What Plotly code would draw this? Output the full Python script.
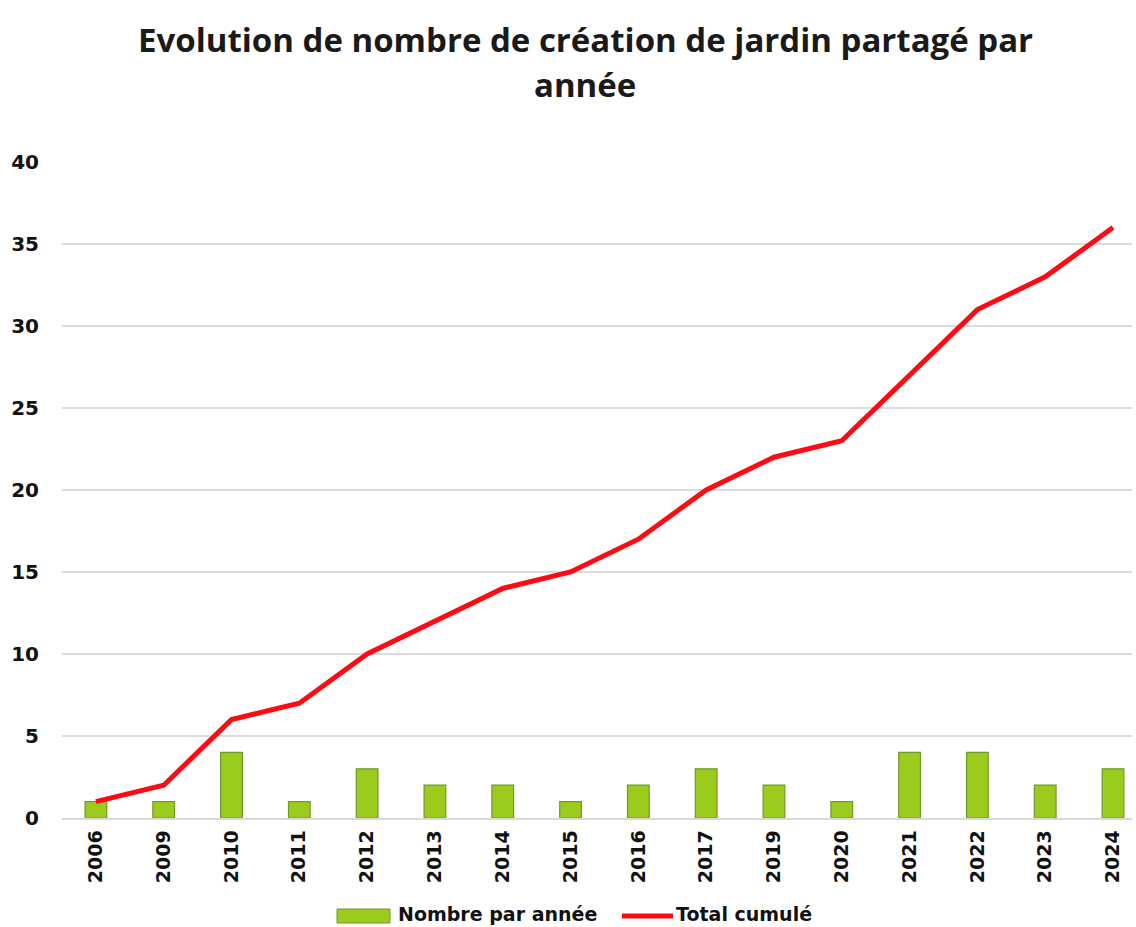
import plotly.graph_objects as go

years = ["2006", "2009", "2010", "2011", "2012", "2013", "2014", "2015",
         "2016", "2017", "2019", "2020", "2021", "2022", "2023", "2024"]
per_year = [1, 1, 4, 1, 3, 2, 2, 1, 2, 3, 2, 1, 4, 4, 2, 3]
cumulative = [1, 2, 6, 7, 10, 12, 14, 15, 17, 20, 22, 23, 27, 31, 33, 36]

BAR_COLOR = "#9BCB1C"
BAR_EDGE = "#6F9A2A"
LINE_COLOR = "#FF0A14"
XTICK_FONT = dict(family="DejaVu Sans", size=19, color="#111")
YTICK_FONT = dict(family="DejaVu Sans", size=20, color="#111")

fig = go.Figure()
fig.add_trace(go.Bar(
    x=years, y=per_year, name="Nombre par année",
    marker=dict(color=BAR_COLOR, line=dict(color=BAR_EDGE, width=1.2)),
    width=0.32, showlegend=False,
))
fig.add_trace(go.Scatter(
    x=years, y=cumulative, name="Total cumulé", mode="lines",
    line=dict(color=LINE_COLOR, width=5), showlegend=False,
))

L, R, T, B = 62, 1132, 162, 818
W, H = 1136, 927
PW, PH = R - L, B - T

def px(x):
    return (x - L) / PW

def py(y):
    return (B - y) / PH

title_font = dict(family="Open Sans", size=33, color="#1a1a1a")
legend_font = dict(family="DejaVu Sans", size=19, color="#111")
annotations = [
    dict(text="<b>Evolution de nombre de création de jardin partagé par</b>",
         x=px(585), y=py(40), xref="paper", yref="paper",
         xanchor="center", yanchor="middle", showarrow=False, font=title_font),
    dict(text="<b>année</b>",
         x=px(585), y=py(84), xref="paper", yref="paper",
         xanchor="center", yanchor="middle", showarrow=False, font=title_font),
    dict(text="<b>Nombre par année</b>",
         x=px(396), y=py(914), xref="paper", yref="paper",
         xanchor="left", yanchor="middle", showarrow=False, font=legend_font),
    dict(text="<b>Total cumulé</b>",
         x=px(674), y=py(914), xref="paper", yref="paper",
         xanchor="left", yanchor="middle", showarrow=False, font=legend_font),
]
shapes = [
    dict(type="rect", xref="paper", yref="paper",
         x0=px(337), x1=px(390), y0=py(909), y1=py(923),
         fillcolor=BAR_COLOR, line=dict(color=BAR_EDGE, width=1)),
    dict(type="line", xref="paper", yref="paper",
         x0=px(622), x1=px(673), y0=py(916), y1=py(916),
         line=dict(color=LINE_COLOR, width=5)),
]

fig.update_layout(
    width=W, height=H,
    paper_bgcolor="white", plot_bgcolor="white",
    margin=dict(l=L, r=W - R, t=T, b=H - B, autoexpand=False),
    showlegend=False,
    font=XTICK_FONT,
    xaxis=dict(
        type="category", range=[-0.5, 15.28], automargin=False,
        tickangle=-90, tickfont=XTICK_FONT,
        tickprefix="<b>", ticksuffix="</b>",
        showgrid=False, showline=True, linecolor="#d9d9d9", linewidth=1.5,
        ticks="outside", ticklen=3, tickcolor="white",
    ),
    yaxis=dict(
        range=[0, 40], dtick=5, showgrid=True, gridcolor="#dcdcdc", gridwidth=1.5,
        zeroline=False, automargin=False,
        tickfont=YTICK_FONT,
        tickprefix="<b>", ticksuffix="</b>",
        ticks="outside", ticklen=18, tickcolor="white",
    ),
    annotations=annotations,
    shapes=shapes,
)

fig.write_html("out.html", config={"displayModeBar": False},
               post_script="document.body.style.margin='0px';document.body.style.overflow='hidden';")
